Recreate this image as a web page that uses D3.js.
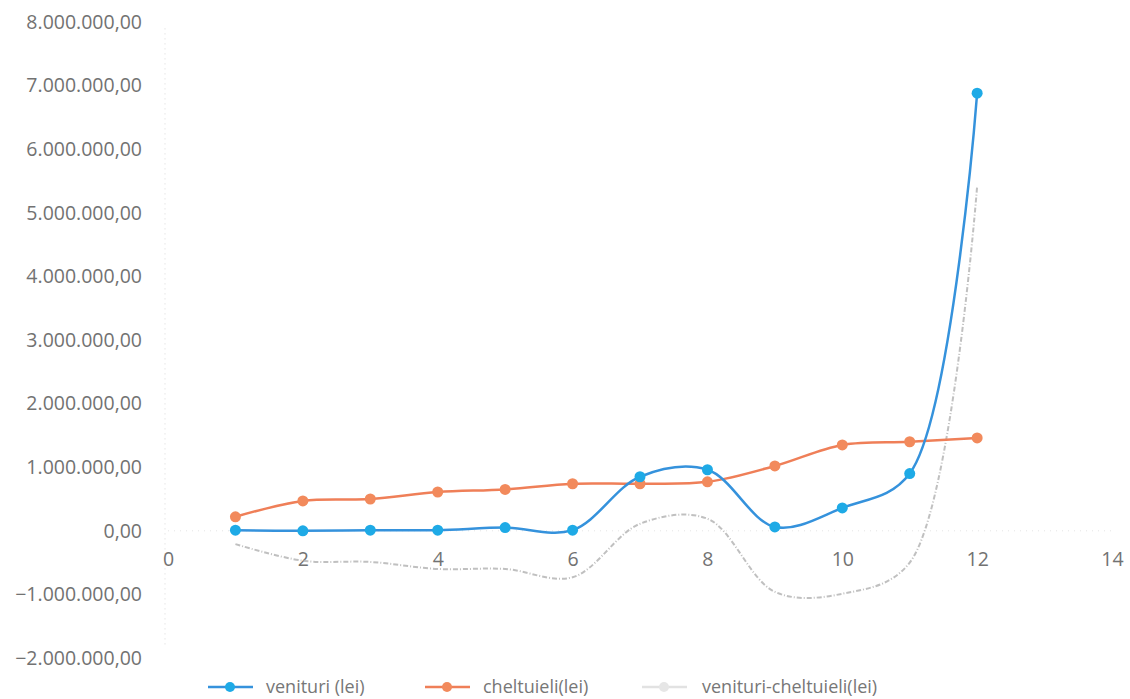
<!DOCTYPE html>
<html>
<head>
<meta charset="utf-8">
<script src="https://cdn.jsdelivr.net/npm/d3@7"></script>
<style>
body{margin:0;background:#fff;}
text{font-family:"Open Sans",sans-serif;}
</style>
</head>
<body>
<svg id="chart"></svg>
<script>
var width=1130, height=699;

// data
var luna=[1,2,3,4,5,6,7,8,9,10,11,12];
var venituri=[10000,0,10000,10000,50000,10000,850000,960000,60000,360000,900000,6880000];
var cheltuieli=[220000,470000,500000,610000,650000,740000,740000,770000,1020000,1350000,1400000,1460000];
var diferenta=[-210000,-470000,-490000,-600000,-600000,-730000,110000,190000,-960000,-990000,-500000,5420000];
var yTicks=[-2000000,-1000000,0,1000000,2000000,3000000,4000000,5000000,6000000,7000000,8000000];
var xTicks=[0,2,4,6,8,10,12,14];
var serii=["venituri (lei)","cheltuieli(lei)","venituri-cheltuieli(lei)"];

var svg=d3.select("#chart").attr("width",width).attr("height",height);

var x=d3.scaleLinear().domain([0,14]).range([168,1112]);
var y=d3.scaleLinear().domain([-2000000,8000000]).range([658,22]);

var ro=d3.formatLocale({decimal:",",thousands:".",grouping:[3],currency:["","lei"]});
var fmt=ro.format(",.2f");

// axa y (linie punctata foarte slaba)
svg.append("line")
  .attr("x1",x(0)-3).attr("x2",x(0)-3)
  .attr("y1",y(7900000)).attr("y2",y(-1800000))
  .attr("stroke","#d8d8d8").attr("stroke-width",1)
  .attr("stroke-dasharray","1,4");
// axa x la 0
svg.append("line")
  .attr("x1",x(0)).attr("x2",x(14))
  .attr("y1",y(0)).attr("y2",y(0))
  .attr("stroke","#e4e4e4").attr("stroke-width",1)
  .attr("stroke-dasharray","1,5");

var yAxis=d3.axisLeft(y).tickValues(yTicks).tickFormat(fmt).tickSize(0).tickPadding(0);
var gy=svg.append("g").attr("transform","translate(142,0)").call(yAxis);
gy.select(".domain").remove();
gy.selectAll("text").attr("font-size","19.5px").attr("fill","#727272")
  .attr("font-family","'Open Sans',sans-serif");

var xAxis=d3.axisBottom(x).tickValues(xTicks).tickFormat(d3.format("d")).tickSize(0).tickPadding(0);
var gx=svg.append("g").attr("transform","translate(0,"+(y(0)+21)+")").call(xAxis);
gx.select(".domain").remove();
gx.selectAll("text").attr("font-size","19.5px").attr("fill","#727272")
  .attr("font-family","'Open Sans',sans-serif");

var line=d3.line()
  .curve(d3.curveCatmullRom.alpha(0.5))
  .x(function(d,i){return x(luna[i]);})
  .y(function(d){return y(d);});

// diferenta - linie gri spalacita
svg.append("path")
  .datum(diferenta)
  .attr("fill","none")
  .attr("stroke","#b0b0b0")
  .attr("stroke-width",2)
  .attr("stroke-dasharray","5,2,1,2")
  .attr("opacity",0.8)
  .attr("d",line);

// cheltuieli
svg.append("path")
  .datum(cheltuieli)
  .attr("fill","none")
  .attr("stroke","#ef7f58")
  .attr("stroke-width",2.5)
  .attr("d",line);
svg.selectAll(".pc").data(cheltuieli).enter().append("circle")
  .attr("class","pc")
  .attr("cx",function(d,i){return x(luna[i]);})
  .attr("cy",function(d){return y(d);})
  .attr("r",5.5)
  .attr("fill","#f28a5c");

// venituri
svg.append("path")
  .datum(venituri)
  .attr("fill","none")
  .attr("stroke","#3592dc")
  .attr("stroke-width",2.5)
  .attr("d",line);
svg.selectAll(".pv").data(venituri).enter().append("circle")
  .attr("class","pv")
  .attr("cx",function(d,i){return x(luna[i]);})
  .attr("cy",function(d){return y(d);})
  .attr("r",5.5)
  .attr("fill","#1eaae6");

// legenda
var legX=[208,425,642];
var legCol=["#3592dc","#ef7f58","#e2e2e2"];
var legMk=["#1eaae6","#f28a5c","#e6e6e6"];
var lg=svg.selectAll(".leg").data(serii).enter().append("g")
  .attr("class","leg")
  .attr("transform",function(d,i){return "translate("+legX[i]+",687)";});
lg.append("line")
  .attr("x1",0).attr("x2",45).attr("y1",0).attr("y2",0)
  .attr("stroke",function(d,i){return legCol[i];})
  .attr("stroke-width",2.5);
lg.append("circle")
  .attr("cx",22).attr("cy",0).attr("r",5)
  .attr("fill",function(d,i){return legMk[i];});
lg.append("text")
  .attr("x",function(d,i){return i==2?60:58;})
  .attr("y",0).attr("dy","0.32em")
  .attr("font-size","18px").attr("fill","#777")
  .text(function(d){return d;});
</script>
</body>
</html>
